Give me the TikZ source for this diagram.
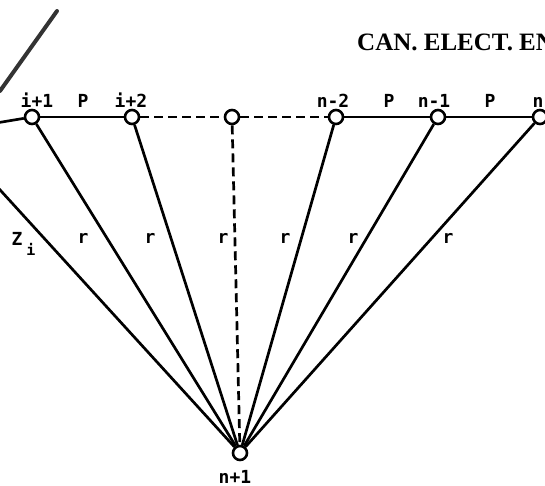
\documentclass[tikz,border=0pt]{standalone}
\usepackage{fontspec}
\newfontfamily\lab{DejaVu Sans Mono}
\newfontfamily\hdr{Liberation Serif}
\begin{document}
\begin{tikzpicture}[x=1pt,y=-1pt,
  vtx/.style={circle,draw,line width=2.6pt,fill=white,minimum size=14pt,inner sep=0pt},
  edg/.style={line width=2.7pt},
  dedg/.style={line width=2.7pt,dash pattern=on 9pt off 5pt},
  lbl/.style={inner sep=0pt,anchor=base,font=\lab\bfseries\fontsize{18}{18}\selectfont},
  sub/.style={inner sep=0pt,anchor=base,font=\lab\bfseries\fontsize{15}{15}\selectfont},
  hdrstyle/.style={inner sep=0pt,anchor=base west,font=\hdr\bfseries\fontsize{25}{25}\selectfont}]
\useasboundingbox (0,0) rectangle (545,486);
% page-edge shadow
\draw[line width=4pt,black!80,line cap=round] (0,91) -- (57,11);
% header
\node[hdrstyle] (hdr) at (357,51) {CAN. ELECT. EN};
% vertices
\node[vtx] (i1) at (32,117) {};
\node[vtx] (i2) at (132,117) {};
\node[vtx] (mid) at (232,117) {};
\node[vtx] (n2) at (336,117) {};
\node[vtx] (n1) at (438,117) {};
\node[vtx] (n) at (540,117) {};
\node[vtx] (np1) at (240,453) {};
\coordinate (iA) at (-40,129);
\coordinate (iB) at (-40,146);
% horizontal line
\draw[edg] (iA) -- (i1);
\draw[edg] (i1) -- (i2);
\draw[dedg] (i2) -- (mid);
\draw[dedg] (mid) -- (n2);
\draw[edg] (n2) -- (n1);
\draw[edg] (n1) -- (n);
% spokes
\draw[edg] (iB) -- (np1);
\draw[edg] (i1) -- (np1);
\draw[edg] (i2) -- (np1);
\draw[dedg] (mid) -- (np1);
\draw[edg] (n2) -- (np1);
\draw[edg] (n1) -- (np1);
\draw[edg] (n) -- (np1);
% top labels
\node[lbl] (li1) at (37,108) {i+1};
\node[lbl] (lp1) at (83,108) {P};
\node[lbl] (li2) at (131,108) {i+2};
\node[lbl] (ln2) at (333,108) {n-2};
\node[lbl] (lp2) at (389,108) {P};
\node[lbl] (ln1) at (434,108) {n-1};
\node[lbl] (lp3) at (490,108) {P};
\node[lbl] (ln) at (538,108) {n};
% spoke labels
\node[lbl] (lz) at (17,245) {Z};
\node[sub] (lzi) at (31,255) {i};
\node[lbl] (r1) at (83,243) {r};
\node[lbl] (r2) at (150,243) {r};
\node[lbl] (r3) at (223,243) {r};
\node[lbl] (r4) at (285,243) {r};
\node[lbl] (r5) at (353,243) {r};
\node[lbl] (r6) at (448,243) {r};
\node[lbl] (lnp1) at (235,483) {n+1};
\end{tikzpicture}
\end{document}
